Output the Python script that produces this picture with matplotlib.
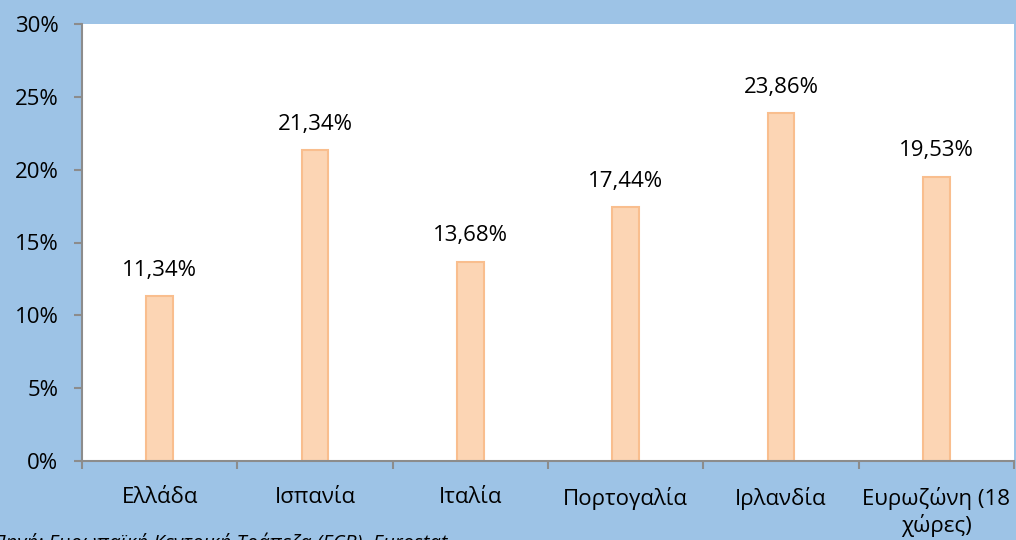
import matplotlib.pyplot as plt
import numpy as np
from matplotlib.ticker import FuncFormatter, FixedLocator

countries = ["Ελλάδα", "Ισπανία", "Ιταλία", "Πορτογαλία", "Ιρλανδία", "Ευρωζώνη (18\nχώρες)"]
values = [11.34, 21.34, 13.68, 17.44, 23.86, 19.53]
value_labels = ["11,34%", "21,34%", "13,68%", "17,44%", "23,86%", "19,53%"]
source = "Πηγή: Ευρωπαϊκή Κεντρική Τράπεζα (ECB), Eurostat"

bg = "#9DC3E6"
plt.rcParams['font.family'] = ['Open Sans', 'DejaVu Sans']

fig = plt.figure(figsize=(10.16, 5.4), dpi=100, facecolor=bg)
ax = fig.add_axes([82/1016, 1 - 461/540, 932/1016, 437/540])
ax.set_facecolor("white")

x = np.arange(len(countries))
bars = ax.bar(x, values, width=0.17, color="#FCD5B4", edgecolor="#F9BE8E", linewidth=1.5)

for xi, v, lab in zip(x, values, value_labels):
    ax.annotate(lab, (xi, v), xytext=(0, 11), textcoords="offset points",
                ha="center", va="bottom", fontsize=16, color="black")

ax.set_xlim(-0.5, len(countries) - 0.5)
ax.set_ylim(0, 30)
ax.set_yticks(np.arange(0, 31, 5))
ax.yaxis.set_major_formatter(FuncFormatter(lambda v, p: f"{int(v)}%"))

# ticks at category boundaries, labels at centres
ax.xaxis.set_major_locator(FixedLocator(np.arange(-0.5, len(countries), 1.0)))
ax.xaxis.set_major_formatter(FuncFormatter(lambda v, p: ""))
ax.xaxis.set_minor_locator(FixedLocator(x))
ax.set_xticklabels(countries, minor=True)
ax.tick_params(axis="x", which="minor", length=0, pad=19, labelsize=16)
ax.tick_params(axis="x", which="major", length=6, color="#8C8C8C", width=1.5)
ax.tick_params(axis="y", length=6, color="#8C8C8C", width=1.5, pad=11, labelsize=16)

for s in ["top", "right"]:
    ax.spines[s].set_visible(False)
for s in ["left", "bottom"]:
    ax.spines[s].set_color("#8C8C8C")
    ax.spines[s].set_linewidth(1.5)

# source line, mostly below the lower edge as in the original
fig.text(-8/1016, 7/540, source, fontsize=14.5, style="italic", ha="left", va="top")

fig.savefig("out.png", dpi=100, facecolor=bg)
